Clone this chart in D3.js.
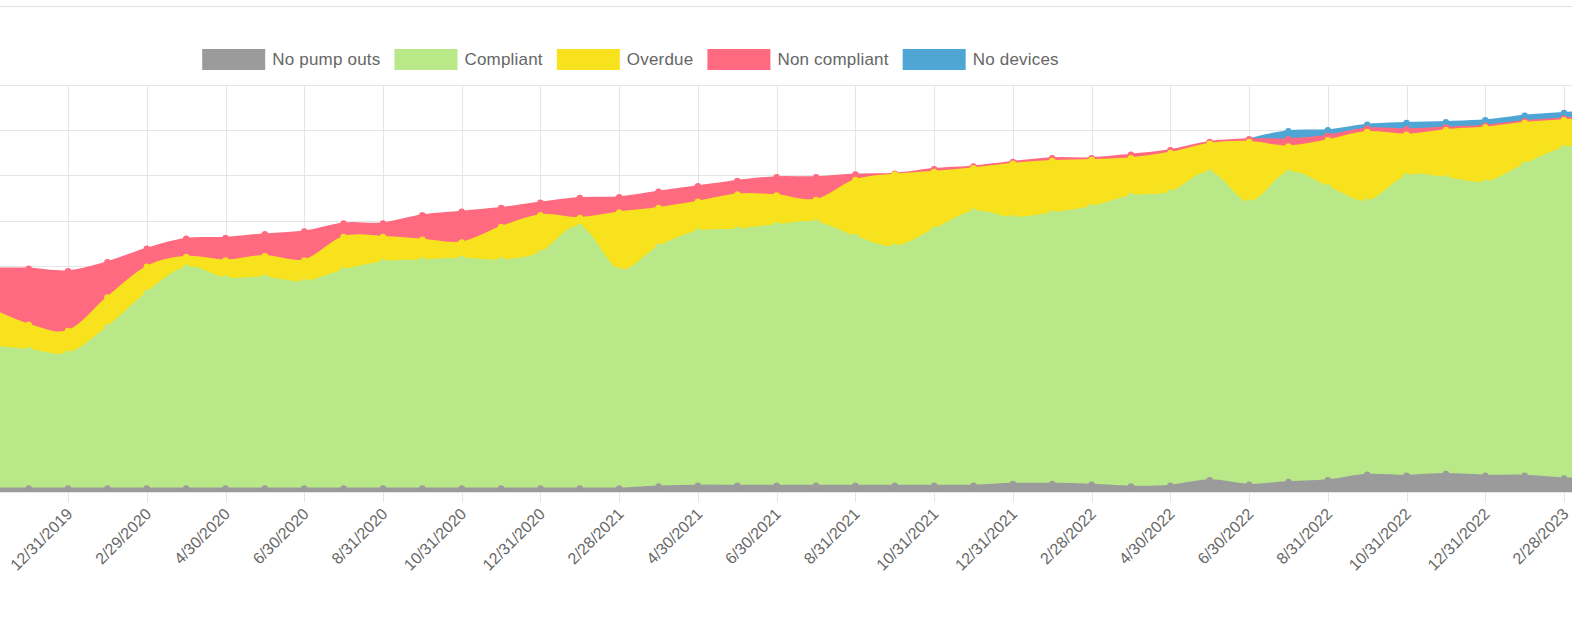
<!DOCTYPE html>
<html>
<head>
<meta charset="utf-8">
<script src="https://cdnjs.cloudflare.com/ajax/libs/d3/7.8.5/d3.min.js"></script>
<style>
  html, body { margin: 0; padding: 0; background: #fff; }
  svg { display: block; font-family: 'Liberation Sans', Arial, Helvetica, sans-serif; }
</style>
</head>
<body>
<div id="chart"></div>
<script>
// Month end dates (x categories).
var months = [
  '10/31/2019', '11/30/2019', '12/31/2019', '1/31/2020', '2/29/2020', '3/31/2020',
  '4/30/2020', '5/31/2020', '6/30/2020', '7/31/2020', '8/31/2020', '9/30/2020',
  '10/31/2020', '11/30/2020', '12/31/2020', '1/31/2021', '2/28/2021', '3/31/2021',
  '4/30/2021', '5/31/2021', '6/30/2021', '7/31/2021', '8/31/2021', '9/30/2021',
  '10/31/2021', '11/30/2021', '12/31/2021', '1/31/2022', '2/28/2022', '3/31/2022',
  '4/30/2022', '5/31/2022', '6/30/2022', '7/31/2022', '8/31/2022', '9/30/2022',
  '10/31/2022', '11/30/2022', '12/31/2022', '1/31/2023', '2/28/2023', '3/31/2023'
];

// Series values, one per month.
var noPumpOuts = [4, 4, 4, 4, 4, 4, 4, 4, 4, 4, 4, 4, 4, 4, 4, 4, 4, 6, 7, 7, 7,
  7, 7, 7, 7, 7, 9, 9, 8, 6, 7, 13, 8, 11, 13, 19, 18, 20, 18, 18, 15, 15];
var compliant = [157, 153, 149, 178, 216, 244, 232, 233, 228, 241, 250, 252, 254,
  252, 260, 289, 241, 265, 281, 283, 288, 291, 275, 264, 283, 303, 294, 299, 307,
  321, 324, 340, 312, 342, 324, 302, 331, 327, 324, 344, 365, 368];
var overdue = [42, 28, 25, 33, 29, 12, 20, 24, 24, 37, 28, 23, 18, 37, 42, 10, 64,
  43, 33, 39, 33, 25, 63, 80, 64, 48, 60, 58, 52, 42, 44, 32, 67, 29, 52, 77, 46,
  53, 61, 46, 31, 30];
var nonCompliant = [44, 62, 66, 39, 20, 20, 25, 24, 32, 15, 15, 27, 34, 21, 14, 22,
  17, 18, 17, 15, 20, 25, 6, 1, 3, 2, 2, 3, 2, 4, 3, 2, 3, 8, 5, 4, 6, 3, 2, 2, 2, 2];
var noDevices = [null, null, null, null, null, null, null, null, null, null, null,
  null, null, null, null, null, null, null, null, null, null, null, null, null,
  null, null, null, null, null, null, null, null, 0, 9, 6, 4, 7, 6, 6, 6, 6, 6];

var seriesNames = ['No pump outs', 'Compliant', 'Overdue', 'Non compliant', 'No devices'];
var seriesValues = [noPumpOuts, compliant, overdue, nonCompliant, noDevices];
var seriesColors = ['#9b9b9b', '#b9e889', '#f8e21e', '#ff6a80', '#4fa5d3'];

// Y axis ticks (the axis itself is outside the visible crop).
var yTicks = [0, 50, 100, 150, 200, 250, 300, 350, 400, 450];

var width = 1572,
  height = 627;

// Build the row table for d3.stack.
var rows = months.map(function (m, i) {
  var row = { month: m };
  seriesNames.forEach(function (name, s) { row[name] = seriesValues[s][i]; });
  return row;
});

var stacked = d3.stack()
  .keys(seriesNames)
  .value(function (d, key) { return d[key] || 0; })(rows);

var x = d3.scalePoint().domain(months).range([-10.7, 1603.4]);
var y = d3.scaleLinear().domain([0, 450]).range([492, 85]);

var svg = d3.select('#chart').append('svg')
  .attr('width', width)
  .attr('height', height);

svg.append('rect')
  .attr('width', width)
  .attr('height', height)
  .attr('fill', '#fff');

// Card border at the top.
svg.append('line')
  .attr('x1', 0).attr('x2', width)
  .attr('y1', 6.5).attr('y2', 6.5)
  .attr('stroke', '#e3e3e3');

// Grid lines.
var grid = svg.append('g').attr('stroke', '#e5e5e5').attr('stroke-width', 1);

grid.selectAll('line.h')
  .data(yTicks)
  .enter()
  .append('line')
  .attr('class', 'h')
  .attr('x1', 0).attr('x2', width)
  .attr('y1', function (d) { return Math.round(y(d)) + 0.5; })
  .attr('y2', function (d) { return Math.round(y(d)) + 0.5; });

// Every other month gets a tick; only the ones inside the crop are labelled.
var shownMonths = months.filter(function (m, i) { return i % 2 === 0; });
var labelledMonths = shownMonths.filter(function (m) { return x(m) > 0 && x(m) < width; });

grid.selectAll('line.v')
  .data(shownMonths)
  .enter()
  .append('line')
  .attr('class', 'v')
  .attr('x1', function (d) { return Math.round(x(d)) + 0.5; })
  .attr('x2', function (d) { return Math.round(x(d)) + 0.5; })
  .attr('y1', y(450))
  .attr('y2', y(0) + 10);

// Areas, drawn top series first so lower ones sit over them (Chart.js order).
var curve = d3.curveCardinal.tension(0);

var layers = svg.append('g');

stacked.slice().reverse().forEach(function (layer) {
  var s = layer.index;
  var raw = seriesValues[s];
  var g = layers.append('g');

  var area = d3.area()
    .defined(function (d, i) { return raw[i] !== null; })
    .x(function (d) { return x(d.data.month); })
    .y0(y(0))
    .y1(function (d) { return y(d[1]); })
    .curve(curve);

  var line = d3.line()
    .defined(function (d, i) { return raw[i] !== null; })
    .x(function (d) { return x(d.data.month); })
    .y(function (d) { return y(d[1]); })
    .curve(curve);

  g.append('path')
    .datum(layer)
    .attr('d', area)
    .attr('fill', seriesColors[s]);

  g.append('path')
    .datum(layer)
    .attr('d', line)
    .attr('fill', 'none')
    .attr('stroke', seriesColors[s])
    .attr('stroke-width', 2);

  g.selectAll('circle')
    .data(layer.filter(function (d, i) { return raw[i] !== null && raw[i] > 0; }))
    .enter()
    .append('circle')
    .attr('cx', function (d) { return x(d.data.month); })
    .attr('cy', function (d) { return y(d[1]); })
    .attr('r', 3.2)
    .attr('fill', seriesColors[s]);
});

// X axis labels.
var xAxis = d3.axisBottom(x).tickValues(labelledMonths).tickSize(0);

var axisG = svg.append('g')
  .attr('transform', 'translate(0,' + y(0) + ')')
  .call(xAxis);

axisG.select('.domain').remove();
axisG.selectAll('text')
  .attr('x', 0)
  .attr('y', 0)
  .attr('dy', 0)
  .attr('transform', 'translate(5,23) rotate(-45)')
  .style('text-anchor', 'end')
  .attr('fill', '#666')
  .style('font-size', '16px')
  .style('font-family', "'Liberation Sans', Arial, sans-serif");

// Legend, centred above the plot.
var legend = svg.append('g');
var items = legend.selectAll('g.item')
  .data(seriesNames)
  .enter()
  .append('g')
  .attr('class', 'item');

items.append('rect')
  .attr('y', 49)
  .attr('width', 63)
  .attr('height', 21)
  .attr('fill', function (d, i) { return seriesColors[i]; });

items.append('text')
  .attr('x', 70)
  .attr('y', 65)
  .attr('fill', '#666')
  .style('font-size', '17px')
  .style('letter-spacing', '0.2px')
  .text(function (d) { return d; });

var offsets = [], total = 0;
items.each(function (d, i) {
  var w = 70 + d3.select(this).select('text').node().getComputedTextLength();
  offsets.push(total);
  total += w + (i < seriesNames.length - 1 ? 14 : 0);
});
var start = 630.5 - total / 2;
items.attr('transform', function (d, i) { return 'translate(' + (start + offsets[i]) + ',0)'; });
</script>
</body>
</html>
